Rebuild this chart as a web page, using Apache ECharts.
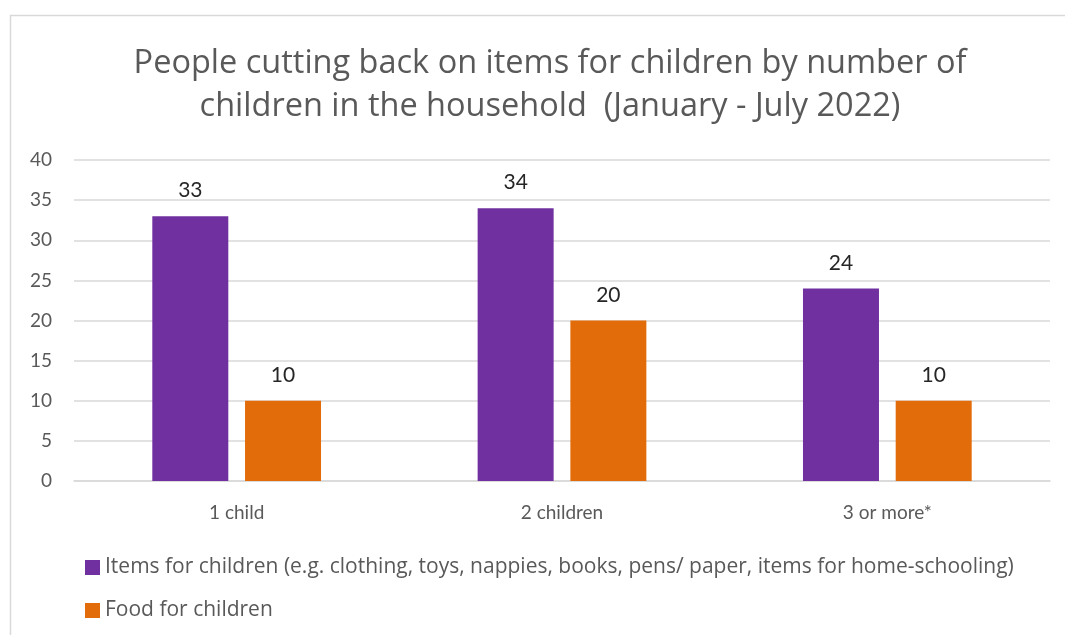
<!DOCTYPE html>
<html>
<head>
<meta charset="utf-8">
<script src="https://cdn.jsdelivr.net/npm/echarts@6/dist/echarts.min.js"></script>
<style>
  html, body { margin: 0; padding: 0; background: #fff; }
  #chart { width: 1065px; height: 635px; }
</style>
</head>
<body>
<div id="chart"></div>
<script>
var categories = ['1 child', '2 children', '3 or more*'];
var itemsForChildren = [33, 34, 24];
var foodForChildren = [10, 20, 10];
var seriesNames = [
  'Items for children (e.g. clothing, toys, nappies, books, pens/ paper, items for home-schooling)',
  'Food for children'
];

var font = 'Lato, "Open Sans", sans-serif';
var wideFont = '"Open Sans", Lato, sans-serif';
var myChart = echarts.init(document.getElementById('chart'));
var option = {
  color: ['#7030A0', '#E36C0A'],
  textStyle: { fontFamily: font },
  title: {
    text: 'People cutting back on items for children by number of\nchildren in the household  (January - July 2022)',
    left: 545,
    textAlign: 'center',
    top: 37,
    textStyle: {
      fontFamily: wideFont,
      fontWeight: 'normal',
      fontSize: 32.5,
      lineHeight: 43,
      color: '#595959'
    }
  },
  graphic: [{
    type: 'rect',
    shape: { x: 10.5, y: 15.5, width: 1070, height: 640 },
    style: { fill: 'none', stroke: '#d9d9d9', lineWidth: 1.5 },
    silent: true
  }],
  legend: {
    orient: 'vertical',
    left: 80,
    top: 552,
    itemGap: 22,
    itemWidth: 15,
    itemHeight: 15,
    icon: 'rect',
    textStyle: { fontFamily: wideFont, fontSize: 21, color: '#595959' },
    data: seriesNames
  },
  grid: {
    left: 74,
    right: 15,
    top: 160,
    bottom: 154
  },
  xAxis: {
    type: 'category',
    data: categories,
    axisLine: { show: true, lineStyle: { color: '#d9d9d9', width: 1.5 } },
    axisTick: { show: false },
    axisLabel: { fontFamily: font, fontSize: 19, color: '#595959', margin: 22 }
  },
  yAxis: {
    type: 'value',
    min: 0,
    max: 40,
    interval: 5,
    axisLine: { show: false },
    axisTick: { show: false },
    axisLabel: { fontFamily: font, fontSize: 19, color: '#595959', margin: 22 },
    splitLine: { lineStyle: { color: '#d9d9d9', width: 1.5 } }
  },
  series: [
    {
      name: seriesNames[0],
      type: 'bar',
      barWidth: 76,
      barGap: '22%',
      data: itemsForChildren,
      label: { show: true, position: 'top', distance: 15, fontFamily: font, fontSize: 21, color: '#262626' }
    },
    {
      name: seriesNames[1],
      type: 'bar',
      barWidth: 76,
      barGap: '22%',
      data: foodForChildren,
      label: { show: true, position: 'top', distance: 15, fontFamily: font, fontSize: 21, color: '#262626' }
    }
  ]
};
myChart.setOption(option);
</script>
</body>
</html>
